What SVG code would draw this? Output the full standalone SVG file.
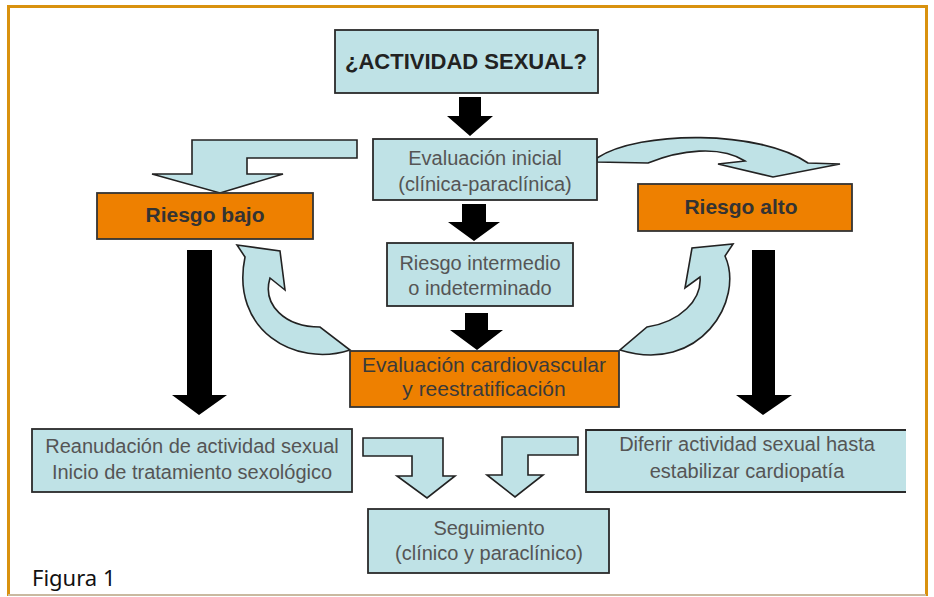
<svg xmlns="http://www.w3.org/2000/svg" width="934" height="597" viewBox="0 0 934 597">
<style>
.blue{fill:#bfe2e6;stroke:#2a2a2a;stroke-width:1.8}
.orange{fill:#ee8000;stroke:#333;stroke-width:1.8}
.arrow{fill:#bfe2e6;stroke:#222;stroke-width:1.6;stroke-linejoin:miter}
.black{fill:#000}
.t{font-family:"Liberation Sans",Arial,sans-serif;font-size:20px;fill:#555;text-anchor:middle}
.tb{font-family:"Liberation Sans",Arial,sans-serif;font-size:21px;font-weight:bold;fill:#333;text-anchor:middle}
.to{font-family:"Liberation Sans",Arial,sans-serif;font-size:21px;fill:#3a3a3a;text-anchor:middle}
</style>
<rect x="0" y="0" width="934" height="597" fill="#fff"/>
<path d="M8.5,596 L8.5,6.5 L926.5,6.5 L926.5,596" fill="none" stroke="#d9920f" stroke-width="3"/>
<line x1="8" y1="595" x2="926" y2="595" stroke="#c9b9a0" stroke-width="2"/>

<g id="connectors">
<polygon class="black" points="459,97 481,97 481,116 493,116 470,136 447,116 459,116"/>
<polygon class="black" points="462,204 486,204 486,222 500,222 474,241 448,222 462,222"/>
<polygon class="black" points="465,313 488,313 488,330 503,330 477,350 450,330 465,330"/>
<polygon class="black" points="187,250 212,250 212,395 227,395 199,415 172,395 187,395"/>
<polygon class="black" points="752,250 775,250 775,395 792,395 763,415 736,395 752,395"/>
<path class="arrow" d="M192,140 L357,140 L357,158 L247,158 L247,174 L283,174 L220,193 L152,174 L192,174 Z"/>
<path class="arrow" d="M597,158 C640,130 760,130 808,163 L840,164 L773,177 L718,164 L745,161 C720,145 680,150 648,163 L597,162 Z"/>
<path class="arrow" d="M237,245 L280,251 L285,290 L270,278 C262,305 285,327 320,327 L350,350 C295,368 230,330 245,257 Z"/>
<path class="arrow" d="M733,244 L725,256 C745,300 700,375 620,350 L647,327 C680,322 702,300 700,277 L685,288 L692,248 Z"/>
<path class="arrow" d="M363,438 L443,438 L443,476 L455,476 L427,498 L397,476 L412,476 L412,456 L363,456 Z"/>
<path class="arrow" d="M578,437 L578,455 L528,455 L528,475 L543,475 L515,497 L487,475 L502,475 L502,437 Z"/>
</g>

<g id="actividad">
<rect class="blue" x="335" y="30" width="263" height="63"/>
<text class="tb" x="466" y="69" style="font-size:22px;fill:#222">¿ACTIVIDAD SEXUAL?</text>
</g>
<g id="evaluacion-inicial">
<rect class="blue" x="373" y="139" width="224" height="61"/>
<text class="t" x="485" y="165">Evaluación inicial</text>
<text class="t" x="485" y="191">(clínica-paraclínica)</text>
</g>
<g id="riesgo-bajo">
<rect class="orange" x="97" y="193" width="216" height="46"/>
<text class="tb" x="205" y="222">Riesgo bajo</text>
</g>
<g id="riesgo-alto">
<rect class="orange" x="638" y="184" width="214" height="47"/>
<text class="tb" x="741" y="214">Riesgo alto</text>
</g>
<g id="riesgo-intermedio">
<rect class="blue" x="387" y="243" width="186" height="63"/>
<text class="t" x="480" y="270">Riesgo intermedio</text>
<text class="t" x="480" y="295">o indeterminado</text>
</g>
<g id="evaluacion-cardiovascular">
<rect class="orange" x="350" y="351" width="269" height="56"/>
<text class="to" x="484" y="372">Evaluación cardiovascular</text>
<text class="to" x="484" y="396">y reestratificación</text>
</g>
<g id="reanudacion">
<rect class="blue" x="32" y="429" width="320" height="63"/>
<text class="t" x="192" y="453">Reanudación de actividad sexual</text>
<text class="t" x="192" y="479">Inicio de tratamiento sexológico</text>
</g>
<g id="diferir">
<path d="M906,430 L586,430 L586,492 L906,492" fill="#bfe2e6" stroke="#2a2a2a" stroke-width="1.8"/>
<text class="t" x="747" y="451">Diferir actividad sexual hasta</text>
<text class="t" x="747" y="478">estabilizar cardiopatía</text>
</g>
<g id="seguimiento">
<rect class="blue" x="368" y="509" width="241" height="64"/>
<text class="t" x="489" y="535">Seguimiento</text>
<text class="t" x="489" y="560">(clínico y paraclínico)</text>
</g>
<text x="32" y="586" style="font-family:'Noto Sans','Open Sans',sans-serif;font-size:22px;fill:#111">Figura 1</text>
</svg>
